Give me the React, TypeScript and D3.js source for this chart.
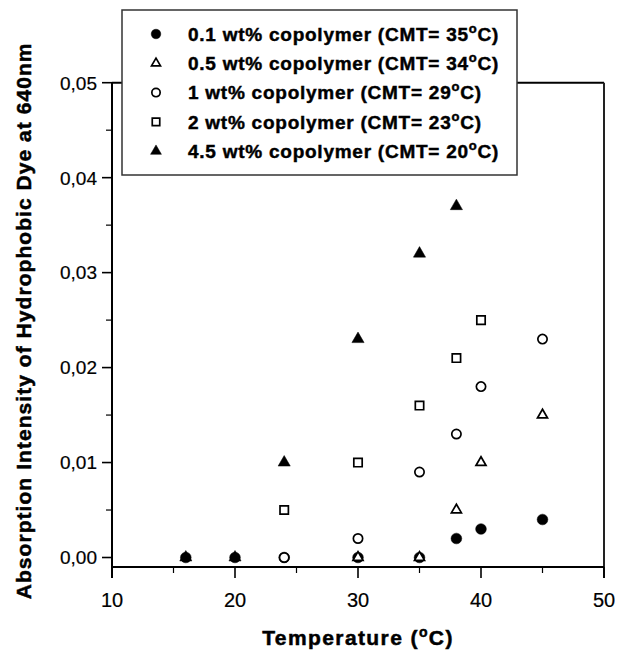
import React from "react";
import * as d3 from "d3";

const temps01 = [16, 20, 24, 30, 35, 38, 40, 45];
const vals01 = [0, 0, 0, 0, 0, 0.002, 0.003, 0.004];
const temps05 = [30, 35, 38, 40, 45];
const vals05 = [0, 0, 0.005, 0.010, 0.015];
const temps1 = [24, 30, 35, 38, 40, 45];
const vals1 = [0, 0.002, 0.009, 0.013, 0.018, 0.023];
const temps2 = [24, 30, 35, 38, 40];
const vals2 = [0.005, 0.010, 0.016, 0.021, 0.025];
const temps45 = [16, 20, 24, 30, 35, 38];
const vals45 = [0, 0, 0.010, 0.023, 0.032, 0.037];

const seriesNames = ["0.1 wt% copolymer (CMT= 35", "0.5 wt% copolymer (CMT= 34", "1 wt% copolymer (CMT= 29", "2 wt% copolymer (CMT= 23", "4.5 wt% copolymer (CMT= 20"];
const xTicks = [10, 20, 30, 40, 50];
const xMinor = [15, 25, 35, 45];
const yTicks = [0, 0.01, 0.02, 0.03, 0.04, 0.05];
const yMinor = [0.005, 0.015, 0.025, 0.035, 0.045];
const yTickLabels = ["0,00", "0,01", "0,02", "0,03", "0,04", "0,05"];

type Kind = "fcircle" | "otri" | "ocircle" | "osquare" | "ftri";
const kinds: Kind[] = ["fcircle", "otri", "ocircle", "osquare", "ftri"];
const seriesT = [temps01, temps05, temps1, temps2, temps45];
const seriesV = [vals01, vals05, vals1, vals2, vals45];

function Marker({ kind, x, y, scale = 1 }: { kind: Kind; x: number; y: number; scale?: number }) {
  const filled = kind === "fcircle" || kind === "ftri";
  let type = d3.symbolCircle;
  let size = 72;
  if (kind === "fcircle") { type = d3.symbolCircle; size = 90; }
  if (kind === "ocircle") { type = d3.symbolCircle; size = 68; }
  if (kind === "osquare") { type = d3.symbolSquare; size = 70; }
  if (kind === "otri") { type = d3.symbolTriangle; size = 44; }
  if (kind === "ftri") { type = d3.symbolTriangle; size = 64; }
  const p = d3.symbol().type(type).size(size * scale)();
  return (
    <path
      d={p || ""}
      transform={`translate(${x},${y})`}
      fill={filled ? "#000" : "#fff"}
      stroke="#000"
      strokeWidth={filled ? 0.5 : 1.7}
    />
  );
}

export default function App() {
  const W = 618, H = 650;
  const x = d3.scaleLinear().domain([10, 50]).range([112, 604]);
  const y = d3.scaleLinear().domain([-0.001, 0.05]).range([567, 82.7]);
  const font = "'Liberation Sans', Arial, sans-serif";
  const axisBottom = 567;
  const left = 112, right = 604, top = y(0.05);

  const legX = 122, legY = 10, legW = 395, legH = 165;

  return (
    <svg width={W} height={H} style={{ position: "absolute", left: 0, top: 0, background: "#fff" }} fontFamily={font}>
      <rect x={0} y={0} width={W} height={H} fill="#fff" />
      {/* frame */}
      <line x1={left} x2={right} y1={top} y2={top} stroke="#000" strokeWidth={2} />
      <line x1={right} x2={right} y1={top} y2={axisBottom + 11} stroke="#222" strokeWidth={2} />
      {/* axes */}
      <line x1={left} x2={left} y1={top} y2={axisBottom + 11} stroke="#000" strokeWidth={2} />
      <line x1={left} x2={right} y1={axisBottom} y2={axisBottom} stroke="#000" strokeWidth={2} />
      {yTicks.map((t, i) => (
        <g key={"yt" + i}>
          <line x1={left - 10} x2={left} y1={y(t)} y2={y(t)} stroke="#000" strokeWidth={1.6} />
          <text x={97} y={y(t)} dy="0.36em" textAnchor="end" fontSize={19} stroke="#000" strokeWidth={0.2}>{yTickLabels[i]}</text>
        </g>
      ))}
      {yMinor.map((t, i) => (
        <line key={"ym" + i} x1={left - 6} x2={left} y1={y(t)} y2={y(t)} stroke="#000" strokeWidth={1.2} />
      ))}
      {xTicks.map((t, i) => (
        <g key={"xt" + i}>
          <line x1={x(t)} x2={x(t)} y1={axisBottom} y2={axisBottom + 11} stroke="#000" strokeWidth={1.6} />
          <text x={x(t)} y={607} textAnchor="middle" fontSize={20} stroke="#000" strokeWidth={0.2}>{t}</text>
        </g>
      ))}
      {xMinor.map((t, i) => (
        <line key={"xm" + i} x1={x(t)} x2={x(t)} y1={axisBottom} y2={axisBottom + 6} stroke="#000" strokeWidth={1.2} />
      ))}
      {/* axis titles */}
      <text x={(left + right) / 2} y={645} textAnchor="middle" fontSize={21} fontWeight="bold" letterSpacing={1.4} stroke="#000" strokeWidth={0.5}>
        Temperature (<tspan fontSize={14} dy={-8}>o</tspan><tspan dy={8}>C)</tspan>
      </text>
      <text transform={`translate(31,${(top + axisBottom) / 2 - 4}) rotate(-90)`} textAnchor="middle" fontSize={21} fontWeight="bold" letterSpacing={1.05} stroke="#000" strokeWidth={0.5}>
        Absorption Intensity of Hydrophobic Dye at 640nm
      </text>
      {/* data */}
      {seriesT.map((ts, si) => (
        <g key={"s" + si}>
          {ts.map((t, j) => (
            <Marker key={j} kind={kinds[si]} x={x(t)} y={y(seriesV[si][j])} />
          ))}
        </g>
      ))}
      {/* legend */}
      <rect x={legX} y={legY} width={legW} height={legH} fill="#fff" stroke="#333" strokeWidth={1.5} />
      {seriesNames.map((n, i) => {
        const cy = 34 + i * 29.3;
        return (
          <g key={"l" + i}>
            <Marker kind={kinds[i]} x={156} y={cy} scale={0.8} />
            <text x={188} y={cy} dy="0.36em" fontSize={19} fontWeight="bold" letterSpacing={0.75} stroke="#000" strokeWidth={0.45}>
              {n}<tspan fontSize={13} dy={-8}>o</tspan><tspan dy={8}>C)</tspan>
            </text>
          </g>
        );
      })}
    </svg>
  );
}
